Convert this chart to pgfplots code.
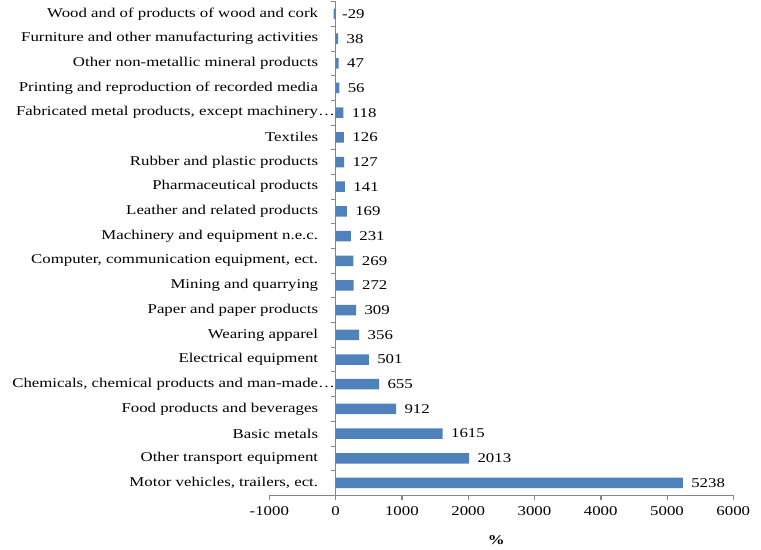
\documentclass[border=0pt]{standalone}
\usepackage{pgfplots}
\pgfplotsset{compat=1.18}
\usepackage{pgfplotstable}
\usepackage{fontspec}
\setmainfont{Liberation Serif}[FakeStretch=1.25]

\definecolor{barblue}{HTML}{4F81BD}
\definecolor{axisgray}{HTML}{868686}

% growth by industry, bottom row first
\pgfplotstableread{
idx value
0 5238
1 2013
2 1615
3 912
4 655
5 501
6 356
7 309
8 272
9 269
10 231
11 169
12 141
13 127
14 126
15 118
16 56
17 47
18 38
19 -29
}\growth

\newcommand{\lblfont}{\fontsize{13.5}{16}\selectfont}

\pgfplotsset{
  common/.style={
    scale only axis,
    every tick label/.append style={font=\lblfont, text=black},
    grid style={axisgray, line width=0.8pt},
    major grid style={axisgray, line width=0.8pt},
    minor grid style={axisgray, line width=0.8pt},
    clip=false,
  },
}

\begin{document}
\begin{tikzpicture}
\useasboundingbox (0,0) rectangle (761bp,550bp);
% bars and the value axis
\begin{axis}[
  common,
  at={(269.3bp,54.7bp)}, anchor=south west,
  width=464bp, height=493.7bp,
  ymin=-0.5, ymax=19.5,
  xbar, bar width=10.5bp,
  xmin=-1000, xmax=6000,
  axis x line*=bottom, axis y line=none,
  axis line style={axisgray, line width=0.8pt},
  xtick={-1000,0,...,6000},
  xtick align=outside, major tick length=5bp,
  xticklabel style={yshift=-3bp},
  extra x ticks={0}, extra x tick labels={},
  extra x tick style={xmajorgrids=true},
  /pgf/number format/.cd, assume math mode=true, 1000 sep={}, fixed, precision=0,
  /pgfplots/.cd,
  xlabel={\textbf{\%}},
  xlabel style={font=\lblfont, at={(axis description cs:0.5,0)}, anchor=center,
    xshift=-5bp, yshift=-44.7bp},
  nodes near coords,
  every node near coord/.append style={font=\lblfont, text=black, anchor=west, xshift=5bp},
]
\addplot[fill=barblue, draw=none] table[x=value, y=idx] {\growth};
\end{axis}
% tick marks under the value axis
\begin{axis}[
  common,
  at={(269.3bp,49.7bp)}, anchor=south west,
  width=464bp, height=5bp,
  xmin=-1000, xmax=6000, ymin=0, ymax=1,
  axis line style={draw=none},
  xtick={-1000,0,...,6000}, xticklabels={},
  xmajorgrids, ytick=\empty,
  major tick length=0pt,
]
\end{axis}
% category labels and tick marks left of the zero line
\begin{axis}[
  common,
  at={(330.6bp,54.7bp)}, anchor=south west,
  width=5bp, height=493.7bp,
  xmin=0, xmax=1, ymin=-0.5, ymax=19.5,
  axis line style={draw=none},
  xtick=\empty,
  ytick={0,...,19}, ytick pos=left,
  major tick length=0pt, minor tick length=0pt,
  yticklabels={
    {Motor vehicles, trailers, ect.},
    {Other transport equipment},
    {Basic metals},
    {Food products and beverages},
    {Chemicals, chemical products and man-made\rlap{…}},
    {Electrical equipment},
    {Wearing apparel},
    {Paper and paper products},
    {Mining and quarrying},
    {Computer, communication equipment, ect.},
    {Machinery and equipment n.e.c.},
    {Leather and related products},
    {Pharmaceutical products},
    {Rubber and plastic products},
    {Textiles},
    {Fabricated metal products, except machinery\rlap{…}},
    {Printing and reproduction of recorded media},
    {Other non-metallic mineral products},
    {Furniture and other manufacturing activities},
    {Wood and of products of wood and cork}},
  minor ytick={-0.5,0.5,...,19.5},
  yminorgrids,
  yticklabel style={xshift=-9bp},
]
\end{axis}
\end{tikzpicture}
\end{document}
